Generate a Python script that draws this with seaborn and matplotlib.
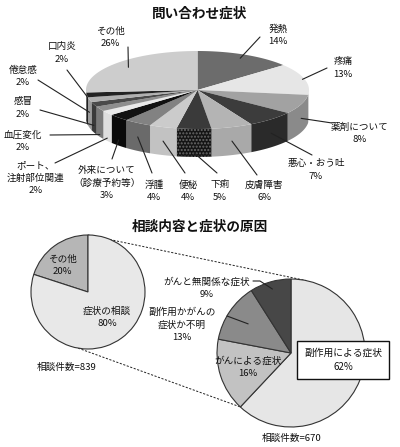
import numpy as np
import matplotlib
matplotlib.use('Agg')
import matplotlib.pyplot as plt
import seaborn as sns
from matplotlib.patches import Polygon

sns.set_theme(style='white')
plt.rcParams['font.family'] = ['Noto Sans CJK JP', 'DejaVu Sans']

# ---- 問い合わせ症状 (上の3D円グラフ)
sym_labels = ['発熱', '疼痛', '薬剤について', '悪心・おう吐', '皮膚障害', '下痢', '便秘', '浮腫',
              '外来について\n（診療予約等）', 'ポート、\n注射部位関連', '血圧変化', '感冒',
              '倦怠感', '口内炎', 'その他']
sym_pct = [14, 13, 8, 7, 6, 5, 4, 4, 3, 2, 2, 2, 2, 2, 26]
top_cols = ['#6c6c6c', '#e6e6e6', '#a2a2a2', '#3c3c3c', '#b4b4b4', '#3a3a3a', '#cbcbcb',
            '#828282', '#111111', '#e9e9e9', '#8e8e8e', '#4a4a4a', '#b0b0b0', '#222222', '#cdcdcd']
side_cols = ['#5a5a5a', '#d8d8d8', '#8a8a8a', '#2a2a2a', '#a9a9a9', '#151515', '#c2c2c2',
             '#6a6a6a', '#0a0a0a', '#dedede', '#7a7a7a', '#3a3a3a', '#9a9a9a', '#1c1c1c', '#bdbdbd']

# ---- 相談内容と症状の原因
cons_labels = ['その他', '症状の相談']
cons_pct = [20, 80]
cons_n = 839
cause_labels = ['副作用による症状', 'がんによる症状', '副作用かがんの\n症状か不明', 'がんと無関係な症状']
cause_pct = [62, 16, 13, 9]
cause_n = 670
cons_cols = ['#b6b6b6', '#e8e8e8']
cause_cols = ['#e6e6e6', '#c2c2c2', '#8a8a8a', '#474747']

H = 447
def Y(y):
    return H - y

fig = plt.figure(figsize=(4, 4.47), dpi=100)
ax = fig.add_axes([0, 0, 1, 1])

FS = 6.9
TXT = '#111111'
LN = '#222222'

# ---------------- 3D pie ----------------
cx, cy = 197.5, Y(90)
rx, ry, dep = 111.5, 39, 28
frac = np.array(sym_pct) / sum(sym_pct)
edges = 90 - 360 * np.concatenate([[0], np.cumsum(frac)])

for i in range(len(sym_pct)):
    t1, t2 = edges[i], edges[i + 1]
    lo, hi = max(t2, -180), min(t1, 0)
    if hi > lo:
        ts = np.radians(np.linspace(hi, lo, 40))
        xs = cx + rx * np.cos(ts)
        ys = cy + ry * np.sin(ts)
        pts = np.concatenate([np.c_[xs, ys], np.c_[xs, ys - dep][::-1]])
        if sym_labels[i] == '下痢':
            ax.add_patch(Polygon(pts, closed=True, facecolor=side_cols[i], edgecolor='#6a6a6a',
                                 hatch='.....', lw=0, zorder=1))
        else:
            ax.add_patch(Polygon(pts, closed=True, facecolor=side_cols[i], lw=0, zorder=1))
    ts = np.radians(np.linspace(t1, t2, 60))
    pts = np.concatenate([[[cx, cy]], np.c_[cx + rx * np.cos(ts), cy + ry * np.sin(ts)]])
    ax.add_patch(Polygon(pts, closed=True, facecolor=top_cols[i], lw=0, zorder=2))

# label text centre, leader start (image px), anchor (radius factor, depth factor)
lab_pos = [(278, 35), (343, 68), (360, 133), (316, 170), (264, 191), (220, 191), (188, 191),
           (154, 191), (107, 183), (36, 178), (23, 141), (23, 108), (23, 76), (62, 53), (110, 37)]
line_start = [(260, 37), (327, 68), (332, 123), (312, 155), (257, 175), (217, 173), (185, 173),
              (152, 173), (112, 159), (55, 163), (50, 135), (40, 110), (38, 80), (67, 70), (128, 47)]
anchor = [(0.9, 0), (0.98, 0), (1, 0.5), (1, 0.5), (1, 0.5), (1, 0.85), (1, 0.5), (1, 0.5),
          (1, 0.8), (1, 0.9), (1, 0.92), (1, 0.75), (1, 0.45), (1, 0.05), (0.85, 0)]

for i, lab in enumerate(sym_labels):
    mid = np.radians((edges[i] + edges[i + 1]) / 2)
    f, d = anchor[i]
    ax_x = cx + f * rx * np.cos(mid)
    ax_y = cy + f * ry * np.sin(mid) - d * dep
    sx, sy = line_start[i]
    ax.plot([sx, ax_x], [Y(sy), ax_y], color=LN, lw=0.8, zorder=3)
    tx, ty = lab_pos[i]
    ax.text(tx, Y(ty), f'{lab}\n{sym_pct[i]}%', ha='center', va='center', fontsize=FS,
            color=TXT, linespacing=1.45, zorder=4)

ax.text(200, Y(14), '問い合わせ症状', ha='center', va='center', fontsize=9.8,
        fontweight='bold', color=TXT)

# ---------------- pie of pie ----------------
lc, lr = (88, Y(292)), 57
rc, rr = (291, Y(353)), 74
wp = dict(edgecolor='#333333', linewidth=0.8)
ax.pie(cons_pct, colors=cons_cols, startangle=90, counterclock=True, center=lc, radius=lr,
       frame=True, wedgeprops=wp)
ax.pie(cause_pct, colors=cause_cols, startangle=90, counterclock=False, center=rc, radius=rr,
       frame=True, wedgeprops=wp)

# dashed connectors
def on_circle(c, r, ang):
    a = np.radians(ang)
    return c[0] + r * np.cos(a), c[1] + r * np.sin(a)

split = 90 - 360 * cause_pct[0] / sum(cause_pct)
p1, p2 = on_circle(lc, lr, 90), on_circle(rc, rr, 78)
p3, p4 = on_circle(lc, lr, -100), on_circle(rc, rr, split)
for a, b in [(p1, p2), (p3, p4)]:
    ax.plot([a[0], b[0]], [a[1], b[1]], color=LN, lw=0.7, ls=(0, (2.2, 1.6)), zorder=0)

ax.text(200, Y(227), '相談内容と症状の原因', ha='center', va='center', fontsize=9.8,
        fontweight='bold', color=TXT)
ax.text(62, Y(265), f'{cons_labels[0]}\n{cons_pct[0]}%', ha='center', va='center',
        fontsize=FS, color=TXT, linespacing=1.45)
ax.text(107, Y(317), f'{cons_labels[1]}\n{cons_pct[1]}%', ha='center', va='center',
        fontsize=FS, color=TXT, linespacing=1.45)
ax.text(67, Y(367), f'相談件数={cons_n}', ha='center', va='center', fontsize=FS, color=TXT)
ax.text(292, Y(438), f'相談件数={cause_n}', ha='center', va='center', fontsize=FS, color=TXT)

ax.text(343, Y(360), f'{cause_labels[0]}\n{cause_pct[0]}%', ha='center', va='center',
        fontsize=7, color=TXT, linespacing=1.45,
        bbox=dict(boxstyle='square,pad=0.7', fc='white', ec='#111111', lw=1.0))
ax.text(248, Y(367), f'{cause_labels[1]}\n{cause_pct[1]}%', ha='center', va='center',
        fontsize=FS, color=TXT, linespacing=1.45)
ax.text(182, Y(325), f'{cause_labels[2]}\n{cause_pct[2]}%', ha='center', va='center',
        fontsize=FS, color=TXT, linespacing=1.45)
ax.text(207, Y(288), f'{cause_labels[3]}\n{cause_pct[3]}%', ha='center', va='center',
        fontsize=FS, color=TXT, linespacing=1.45)

# leaders in the right pie
cedges = 90 - 360 * np.concatenate([[0], np.cumsum(cause_pct)]) / sum(cause_pct)
m13 = (cedges[2] + cedges[3]) / 2
m9 = (cedges[3] + cedges[4]) / 2
e13 = on_circle(rc, rr * 0.7, m13)
e9 = on_circle(rc, rr * 0.9, m9)
ax.plot([227, e13[0]], [Y(316), e13[1]], color=LN, lw=0.8)
ax.plot([253, 260, e9[0]], [Y(281), Y(281), e9[1]], color=LN, lw=0.8)

ax.set_xlim(0, 400)
ax.set_ylim(0, H)
ax.axis('off')
fig.savefig('out.png', dpi=100, facecolor='white')
